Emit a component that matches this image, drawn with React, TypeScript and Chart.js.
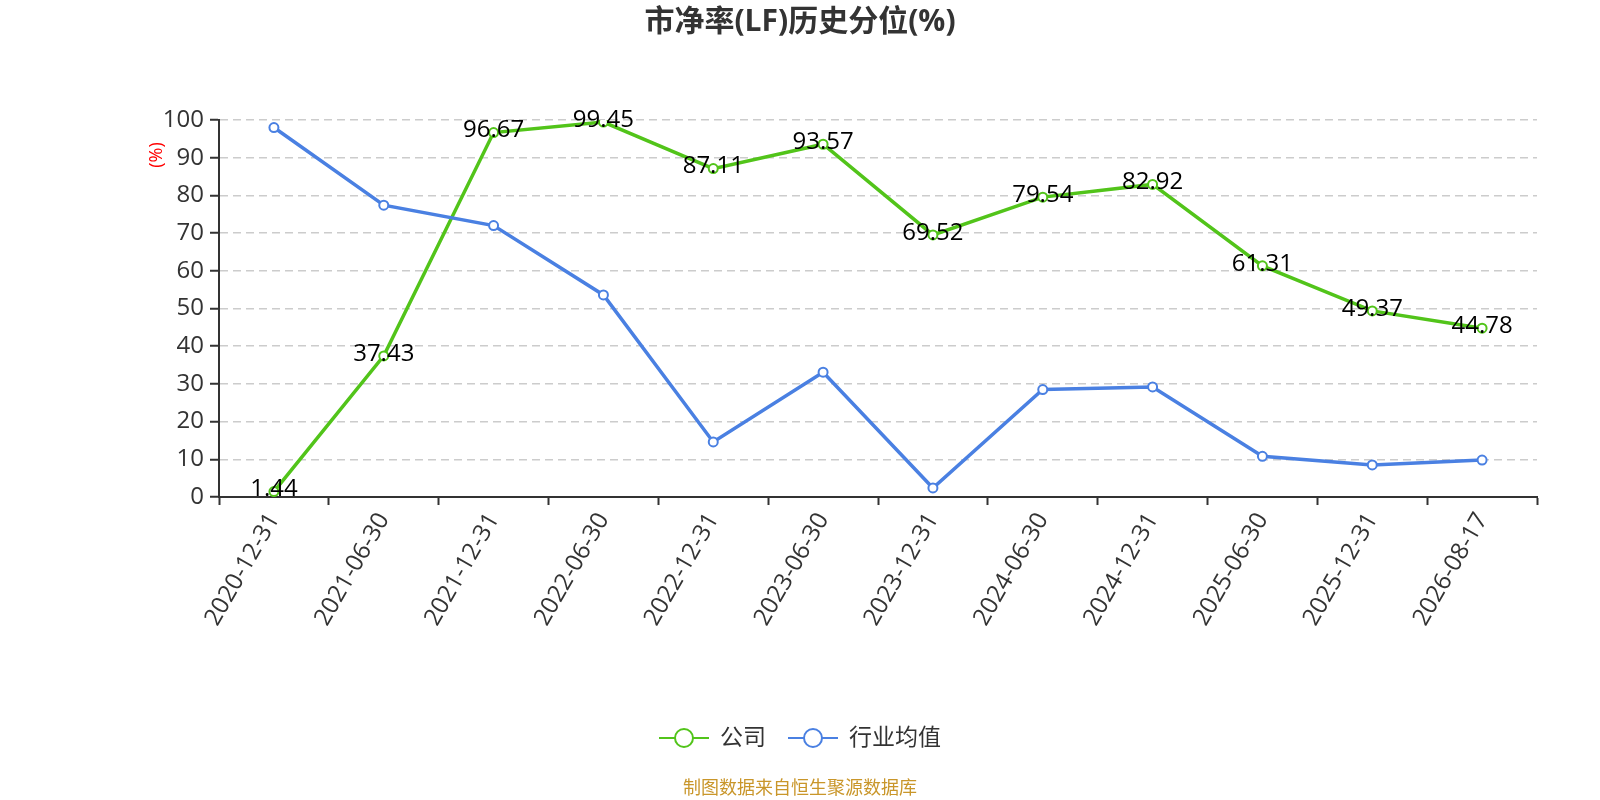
import React, { useEffect, useRef } from 'react';
import Chart from 'chart.js/auto';

const TITLE = '市净率(LF)历史分位(%)';
const FOOTER = '制图数据来自恒生聚源数据库';
const Y_UNIT = '(%)';

const dates = [
  '2020-12-31', '2021-06-30', '2021-12-31', '2022-06-30', '2022-12-31', '2023-06-30',
  '2023-12-31', '2024-06-30', '2024-12-31', '2025-06-30', '2025-12-31', '2026-08-17',
];
const companyName = '公司';
const industryName = '行业均值';
const companyValues = [1.44, 37.43, 96.67, 99.45, 87.11, 93.57, 69.52, 79.54, 82.92, 61.31, 49.37, 44.78];
const industryValues = [98.0, 77.4, 72.0, 53.6, 14.6, 33.1, 2.4, 28.5, 29.2, 10.8, 8.5, 9.8];

const GREEN = '#52c41a';
const BLUE = '#4a80e2';
const FONT = '"Open Sans", "Noto Sans CJK SC", sans-serif';

// 标注、标题、图例和来源说明
const decorPlugin = {
  id: 'decor',
  afterDatasetsDraw(chart: any) {
    const { ctx } = chart;
    ctx.save();
    // 公司数据标签
    const meta = chart.getDatasetMeta(0);
    ctx.font = `24px ${FONT}`;
    ctx.fillStyle = '#000';
    ctx.textAlign = 'center';
    ctx.textBaseline = 'middle';
    meta.data.forEach((pt: any, i: number) => {
      ctx.fillText(companyValues[i].toFixed(2), pt.x, pt.y - 2);
    });
    ctx.restore();
  },
  afterDraw(chart: any) {
    const { ctx, width } = chart;
    const cx = width / 2;
    ctx.save();

    ctx.font = `bold 30px ${FONT}`;
    ctx.fillStyle = '#333';
    ctx.textAlign = 'center';
    ctx.textBaseline = 'middle';
    ctx.fillText(TITLE, cx, 22);

    ctx.font = `18px ${FONT}`;
    ctx.fillStyle = '#c9962a';
    ctx.fillText(FOOTER, cx, 789);

    // y 轴单位
    ctx.save();
    ctx.translate(157, 155);
    ctx.rotate(-Math.PI / 2);
    ctx.font = `18px ${FONT}`;
    ctx.fillStyle = '#ff0000';
    ctx.fillText(Y_UNIT, 0, 0);
    ctx.restore();

    // 图例
    const items = [
      { name: companyName, color: GREEN },
      { name: industryName, color: BLUE },
    ];
    ctx.font = `23px ${FONT}`;
    const iconW = 50;
    const gap = 11;
    const itemGap = 22;
    const widths = items.map((it) => ctx.measureText(it.name).width);
    const total = items.reduce((s, _, i) => s + iconW + gap + widths[i], 0) + itemGap * (items.length - 1);
    let x = cx - total / 2;
    const y = 738;
    items.forEach((it, i) => {
      ctx.strokeStyle = it.color;
      ctx.lineWidth = 2;
      ctx.beginPath();
      ctx.moveTo(x, y);
      ctx.lineTo(x + iconW, y);
      ctx.stroke();
      ctx.beginPath();
      ctx.arc(x + iconW / 2, y, 9, 0, Math.PI * 2);
      ctx.fillStyle = '#fff';
      ctx.fill();
      ctx.stroke();
      ctx.fillStyle = '#333';
      ctx.textAlign = 'left';
      ctx.fillText(it.name, x + iconW + gap, y);
      x += iconW + gap + widths[i] + itemGap;
    });
    ctx.restore();
  },
};

export default function App() {
  const canvasRef = useRef<HTMLCanvasElement>(null);

  useEffect(() => {
    document.body.style.margin = '0';
    if (!canvasRef.current) return;

    const chart = new Chart(canvasRef.current, {
      type: 'line',
      data: {
        labels: dates,
        datasets: [
          {
            label: companyName,
            data: companyValues,
            borderColor: GREEN,
            backgroundColor: '#fff',
            borderWidth: 3.5,
            pointRadius: 4.5,
            pointBorderWidth: 2,
            pointBackgroundColor: '#fff',
            pointBorderColor: GREEN,
            tension: 0,
            order: 1,
          },
          {
            label: industryName,
            data: industryValues,
            borderColor: BLUE,
            backgroundColor: '#fff',
            borderWidth: 3.5,
            pointRadius: 4.5,
            pointBorderWidth: 2,
            pointBackgroundColor: '#fff',
            pointBorderColor: BLUE,
            tension: 0,
            order: 0,
          },
        ],
      },
      options: {
        animation: false,
        responsive: true,
        maintainAspectRatio: false,
        layout: { padding: { top: 120, right: 63, bottom: 143, left: 0 } },
        plugins: {
          legend: { display: false },
          title: { display: false },
          tooltip: { enabled: false },
        },
        scales: {
          x: {
            type: 'category',
            offset: true,
            afterFit: (scale: any) => { scale.height = 160; },
            grid: {
              offset: true,
              drawOnChartArea: false,
              tickLength: 8,
              tickColor: '#333',
              tickWidth: 2,
            },
            border: { color: '#333', width: 2 },
            ticks: {
              autoSkip: false,
              maxRotation: 60,
              minRotation: 60,
              padding: 3,
              color: '#333',
              font: { size: 24, family: FONT },
            },
          },
          y: {
            min: 0,
            max: 100,
            afterFit: (scale: any) => { scale.width = 219; },
            ticks: {
              stepSize: 10,
              padding: 6,
              color: '#333',
              font: { size: 24, family: FONT },
            },
            grid: {
              color: '#cccccc',
              lineWidth: 1.5,
              tickColor: '#333',
              tickWidth: 2,
              tickLength: 9,
            },
            border: { color: '#333', width: 2, dash: [8, 5] },
          },
        },
      },
      plugins: [decorPlugin],
    });

    return () => chart.destroy();
  }, []);

  return (
    <div style={{ width: 1600, height: 800, position: 'relative' }}>
      <canvas ref={canvasRef} />
    </div>
  );
}
